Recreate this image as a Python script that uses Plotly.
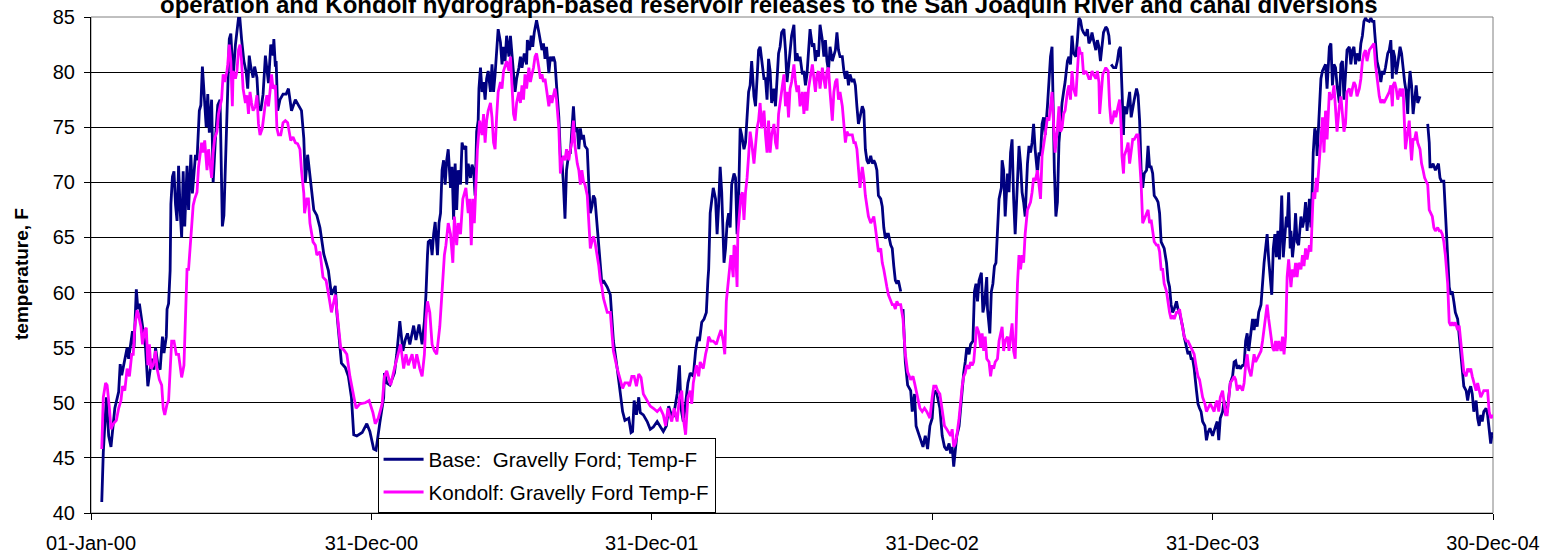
import plotly.graph_objects as go
import pandas as pd

FONT = "Arial, 'Liberation Sans', sans-serif"
title_text = "operation and Kondolf hydrograph-based reservoir releases to the San Joaquin River and canal diversions"
y_title = "temperature, F"
series_names = ["Base:  Gravelly Ford; Temp-F", "Kondolf: Gravelly Ford Temp-F"]
series_colors = ["#000080", "#FF00FF"]

start = pd.Timestamp("2000-01-01")
tick_days = [0, 365, 730, 1095, 1460, 1825]
tick_labels = ["01-Jan-00", "31-Dec-00", "31-Dec-01", "31-Dec-02", "31-Dec-03", "30-Dec-04"]

# (day since 01-Jan-00, temperature F); None = gap in record
base_points = [
    (14,41.0),(16,45.5),(20,50.5),(23,47),(26,46),(28,47.5),(31,49.5),(36,51),(38,53.5),(40,52.5),
    (43,53.5),(47,55),(49,54),(52,55.5),(54,56.5),(56,55),(59,60.3),(61,58.5),(63,59),(66,57.5),
    (69,56),(71,55),(74,51.5),(77,53),(79,54),(82,53),(84,55),(87,53.5),(90,53),(93,56),(95,54.5),
    (98,56),(99,58.5),(101,59),(103,62),(104,68),(106,70.5),(108,71),(110,68),(112,66.5),(114,71.5),
    (116,67.5),(118,65),(120,71),(122,66),(125,71.5),(127,67.5),(130,72.5),(132,69),(136,72.5),
    (138,72),(141,76.5),(143,77),(145,80.5),(147,78),(150,75),(152,78),(154,74.5),(157,77.5),
    (159,70),(162,74),(165,77),(168,77.5),(170,70),(171,66),(173,67),(176,74),(178,78),(180,83),
    (182,83.5),(185,79.5),(188,82.5),(191,84.5),(193,85.5),(196,83),(199,81),(202,80),(204,78.5),
    (206,81.5),(208,80.5),(211,79.5),(213,80.5),(216,79.5),(218,77),(221,76.5),(224,78),(227,81.5),
    (229,80),(231,79),(234,82.5),(237,81.5),(238,83),(240,80.5),(241,81),(243,76.5),(246,77.5),
    (250,78),(254,78),(257,78.5),(261,76.5),(266,77.5),(270,77),(274,76.5),(277,74),(279,70),
    (282,72.5),(285,70.5),(290,67.5),(294,67),
    (298,65.9),(303,63.5),(309,62),(313,59.8),(318,60.6),(320,58.2),(324,55),(326,53.6),(331,53.2),
    (335,52.4),(339,50.5),(342,47.1),(346,47),(353,47.3),(359,48.1),(363,47.4),(368,45.8),(371,45.7),
    (376,48.2),(381,50.5),(382,52.7),(385,51.8),(389,51.6),(395,52.7),(398,54.4),(402,57.4),
    (406,54.7),(409,55.7),(412,56.3),(415,55.3),(420,57),(423,55.7),(427,57.1),(431,55.3),(434,57.4),
    (436,59.8),(438,63.4),(439,64.6),(442,64.8),(444,63.4),(446,65.3),(448,66.4),(451,63.4),
    (453,66.3),(455,67.2),(457,71.1),(459,72),(461,69.8),(463,72),(465,73),(468,69.5),(470,71.4),
    (472,66.6),(474,71.7),(476,67.5),(478,71.1),(481,69.8),(483,73.6),(485,73),(488,73.3),(489,69.8),
    (491,71.7),(494,70.4),(496,71.6),(498,71.1),(500,68.8),(502,74.6),(504,75.6),(505,78.5),
    (507,80.4),(509,78.2),(511,79.1),(513,77.5),(515,79.4),(517,80.1),(520,78.2),(522,80.7),
    (524,78.2),(526,79.8),(528,82),(530,83.9),(533,82.7),(535,80.7),(537,82.3),(539,81),(541,83.3),
    (544,81.4),(546,83.3),(548,81.7),(550,80.1),(552,78.2),(554,79.4),(557,80.4),(559,81.4),
    (561,80.4),(564,81.7),(567,80.7),(568,82.9),(571,82),(573,83.3),(575,82.3),(577,83.6),(580,84.7),
    (583,83.6),(585,82.9),(587,82),(589,82.6),(591,81.2),(593,82.3),(596,79.9),(598,81.4),(600,81),
    (602,81.4),(604,80.9),(606,78.8),(609,75.9),(611,72.4),(613,72),(615,69.8),(617,66.7),(619,71.1),
    (622,72.7),(624,72.7),(626,74.9),(628,76.9),(630,74.6),(633,74.9),(635,73),(637,74.9),(639,73.9),
    (641,74.3),(643,73.3),(646,73),(648,69.8),(650,67.2),(652,67.8),(654,68.8),(656,68.5),(659,65.9),
    (661,64),(663,62.7),(665,60.8),(667,61.1),(672,60.5),
    (676,59.8),(680,55.6),(685,53.1),(689,51.1),(692,49.2),(695,48.4),(700,48.6),(703,47.3),
    (705,47.4),(707,50.2),(710,48.9),(713,50.5),(715,49.1),(719,48.9),(724,48.3),(728,47.6),
    (732,47.8),(737,48.3),(741,47.9),(745,47.4),(749,47.9),(752,49.7),(754,49.2),(758,48.7),
    (763,50.8),(766,53.4),(768,49.5),(771,48.3),(774,49.9),(777,51.8),(780,52.7),(784,52.4),
    (787,54.7),(790,56),(792,55.6),(795,57.3),(798,57.6),(801,58.2),(803,61.1),(804,62.1),(806,67.2),
    (808,68.5),(810,69.5),(813,68.5),(815,65.3),(817,67.9),(819,71.4),(821,69.1),(824,62.7),(826,64),
    (828,66.3),(830,67.2),(832,65.9),(834,69.8),(837,70.8),(839,70.4),(841,65.3),(843,68.5),
    (845,74.9),(847,74.3),(850,73),(852,73.6),(854,75.9),(856,78.2),(858,78.8),(860,81),(863,77.8),
    (865,76.9),(867,79.4),(869,82),(871,82.3),(873,81),(876,79.4),(878,79.4),(880,77.5),(882,81.2),
    (884,80.1),(886,77.2),(889,78.5),(891,76.9),(893,79.1),(895,81.7),(897,82.3),(899,83.6),
    (902,83.9),(904,82),(906,79.1),(908,80.7),(910,81.7),(912,83.3),(915,84.3),(917,81),(919,81.7),
    (921,81),(923,81.4),(926,79.8),(928,80.1),(930,78.8),(932,79.8),(934,82.3),(936,83.9),(939,82.3),
    (941,82.6),(943,81),(945,82),(947,81.4),(949,84.3),(952,82.9),(954,81.4),(956,82.9),(958,81),
    (960,80.1),(962,82.3),(965,81),(967,81.4),(969,82),(971,83.6),(973,82),(975,81.4),(978,81.4),
    (980,80.1),(982,79.4),(984,80.1),(986,78.8),(988,79.8),(991,79.1),(993,79.4),(995,78.8),
    (997,76.9),(999,75.3),(1001,75.9),(1004,76.9),(1006,76.5),(1008,73),(1010,72),(1012,71.7),
    (1015,72.4),(1017,71.7),(1019,72),(1021,71.7),(1023,71.1),(1025,68.8),(1028,68.5),(1030,67.8),
    (1032,65.9),(1034,64.9),(1036,65.3),(1038,65.3),(1041,64.3),(1043,64),(1045,62.4),(1047,61.1),
    (1049,60.8),(1051,61.1),(1054,60.1),(1055,None),
    (1057,58.5),(1060,53.7),(1063,51.6),(1067,51.1),(1069,49.2),(1072,50.8),(1074,47.9),(1077,47.3),
    (1081,46.6),(1083,46),(1086,47),(1089,45.8),(1092,47.9),(1095,48.6),(1097,50.8),(1100,51.1),
    (1102,50.5),(1105,49.5),(1108,47),(1111,46),(1114,45.7),(1117,46.3),(1119,45.4),(1121,46),
    (1123,44.2),(1125,45.7),(1127,47),(1130,47.9),(1132,49.5),(1134,51.8),(1136,52.7),(1138,53.7),
    (1140,55),(1143,54.4),(1145,55.3),(1148,55.6),(1150,60.1),(1152,60.8),(1154,59.2),(1156,61.1),
    (1159,61.8),(1161,58.2),(1163,58.9),(1166,61.4),(1167,58.5),(1170,56.3),(1172,60.1),(1174,60.8),
    (1176,62.4),(1178,62.7),(1180,65.3),(1182,68.5),(1185,69.5),(1186,72),(1188,71.1),(1190,66.9),
    (1193,70.8),(1195,69.1),(1197,72.7),(1199,73.9),(1201,68.5),(1203,65.3),(1206,70.1),(1208,73.3),
    (1210,71.7),(1212,69.1),(1214,68.2),(1216,66.9),(1219,71.7),(1221,73.3),(1223,72.7),(1225,73.6),
    (1227,75.3),(1229,73),(1232,70.8),(1234,72.7),(1236,72.4),(1238,75.3),(1240,75.9),(1242,74.3),
    (1245,76.9),(1247,79.1),(1249,81.4),(1251,82.3),(1252,76.9),(1254,71.1),(1256,66.9),(1258,68.2),
    (1260,73.6),(1262,75.6),(1264,77.2),(1266,78.2),(1268,79.1),(1271,81),(1273,81.4),(1275,80.7),
    (1277,83.3),(1279,81.7),(1282,81.4),(1284,82.9),(1286,84.9),(1288,84.7),(1290,83.9),(1292,83.6),
    (1295,83.3),(1297,83.9),(1299,82.6),(1301,82.9),(1303,83.6),(1305,82.9),(1308,82),(1310,82.9),
    (1312,82.3),(1314,81),(1316,82.6),(1318,83.6),(1321,84.1),(1323,83.9),(1325,83.3),(1326,82.5),
    (1327,None),
    (1328,80.7),(1331,80.4),(1334,80.4),(1336,81),(1338,82),(1340,82.3),(1342,78.5),(1344,74.3),
    (1345,76.9),(1348,76.2),(1350,77.2),(1352,78.2),(1354,75.9),(1356,76.9),(1358,77.5),(1361,78.5),
    (1363,77.9),(1365,75.6),(1367,71.1),(1369,69.5),(1371,70.8),(1374,71.1),(1376,73.3),(1378,71.4),
    (1380,71.4),(1382,70.8),(1384,68.8),(1387,68.5),(1389,68.2),(1391,67.2),(1393,64.6),(1395,64.3),
    (1397,64),(1400,62.7),(1402,61.1),(1404,60.5),(1406,58.9),(1408,58.2),(1410,58.5),(1413,59.2),
    (1415,58.5),(1417,58.2),(1419,57.6),(1421,56.9),(1423,56),(1426,55),(1428,54.4),(1430,54.7),
    (1432,54),(1434,54),(1436,53.1),(1439,51.1),(1441,49.9),(1443,49.5),(1445,49.2),(1447,48.3),
    (1450,47.9),(1452,46.6),(1454,47.3),(1456,47.6),
    (1457,47.6),(1460,47),(1462,47.6),(1464,47.9),(1466,48.3),(1468,46.6),(1470,48.6),(1473,49.2),
    (1475,50.2),(1477,48.9),(1479,49.2),(1481,50.5),(1483,51.8),(1486,52.4),(1488,53.7),(1490,53.8),
    (1492,53.1),(1494,53.4),(1496,53.1),(1499,53.4),(1501,53.4),(1503,55.6),(1505,56.3),(1507,54.7),
    (1510,56.6),(1512,57.6),(1514,56.6),(1516,57.6),(1518,56.9),(1520,58.2),(1523,58.9),(1525,61.1),
    (1527,62.7),(1529,64),(1531,65.3),(1533,63),(1536,60.8),(1537,59.8),(1539,64),(1541,65.3),
    (1543,63.2),(1545,65.6),(1547,63),(1549,67.9),(1550,68.8),(1552,63.2),(1554,64.9),(1556,66.9),
    (1557,65.9),(1559,69.1),(1561,64),(1562,65.6),(1564,63.2),(1566,64.6),(1568,67.2),(1570,64.6),
    (1572,64.3),(1575,66.9),(1577,65.9),(1579,66.6),(1581,68.2),(1583,65.6),(1586,68.5),(1588,65.9),
    (1590,70.1),(1591,72.7),(1593,74.9),(1595,74.3),(1596,72.4),(1599,76.5),(1601,79.4),(1603,80.1),
    (1605,80.4),(1607,80.7),(1609,78.5),(1612,82.3),(1614,82.6),(1616,78.8),(1618,80.7),(1620,80.4),
    (1622,78.8),(1625,77.2),(1627,80.7),(1629,81),(1631,77.5),(1633,79.8),(1635,82),(1638,82.3),
    (1640,80.7),(1642,82),(1644,82.3),(1646,80.7),(1648,81.7),(1651,81),(1653,82.6),(1655,83.3),
    (1657,84.6),(1659,84.9),(1661,84.7),(1664,84.6),(1666,84.9),(1668,84.6),(1670,84.6),(1671,83.6),
    (1674,81),(1677,80.1),(1679,79.1),(1681,80.1),(1683,79.8),(1685,80.4),(1688,81.7),(1690,82),
    (1692,82.9),(1694,79.4),(1695,82),(1697,81.4),(1699,79.8),(1701,80.7),(1704,82.3),(1706,81.7),
    (1708,80.1),(1710,79.1),(1712,78.2),(1714,76.2),(1715,78.2),(1717,80.1),(1719,78.8),(1721,76.2),
    (1723,77.5),(1725,78.8),(1727,77.2),(1730,77.8),(1735,None),
    (1740,75.3),(1742,73.6),(1743,71.4),(1745,71.4),(1747,71.7),(1750,71.1),(1752,71.4),(1754,71.7),
    (1756,70.4),(1758,70.1),(1761,70.1),(1763,67.2),(1764,65.3),(1766,62.1),(1768,60.5),(1770,59.8),
    (1772,60.1),(1774,59.2),(1776,58.2),(1779,57.6),(1781,56),(1783,54.7),(1785,53.1),(1787,51.5),
    (1790,51.1),(1792,50.2),(1794,51.1),(1796,51.5),(1798,50.8),(1800,49.2),(1803,50.2),(1805,48.6),
    (1807,47.9),(1809,48.9),(1811,48.3),(1813,49.2),(1816,49.5),(1818,48.9),(1820,47.6),(1822,46.3),
    (1824,47.3),(1825,47),
]

kondolf_points = [
    (14,45.8),(16,50.5),(19,51.8),(21,51.6),(24,49.5),(26,47.6),(29,48.1),(33,48.4),(36,49.5),
    (39,50.2),(41,51.5),(44,51.1),(47,53.1),(50,52.4),(53,54.4),(55,54.4),(57,56.9),(60,58.4),
    (62,57.9),(65,56.9),(67,55.3),(70,56.6),(72,56.8),(74,53.4),(76,55.3),(78,53.1),(81,53.4),
    (84,54.7),(86,53.1),(89,52.1),(92,51.6),(94,49.5),(96,48.9),(99,49.9),(101,50.2),(103,53.7),
    (105,55.6),(108,55.6),(111,54.4),(114,54.4),(116,53.4),(118,52.3),(121,53.4),(123,57.6),
    (125,62.1),(127,62.1),(129,64),(131,66.6),(133,67.9),(135,68.5),(138,69.1),(140,71.4),(142,72.7),
    (144,73.6),(146,72.7),(148,73.8),(151,71.1),(153,73),(155,71.7),(157,70.4),(159,72.7),(161,74),
    (164,74.6),(166,76.2),(168,76.9),(170,77.5),(172,79.8),(174,79.1),(177,80.1),(178,80.7),
    (180,82.5),(182,81),(184,76.9),(185,80.1),(188,79.4),(190,80.1),(192,82),(194,82.5),(196,81),
    (198,78.5),(201,77.2),(203,77.9),(205,76.2),(207,78.2),(209,77.2),(211,76.5),(214,76.9),
    (216,77.9),(218,75.3),(220,74.3),(223,74.9),(224,75.6),(227,77.2),(229,77.9),(231,76.9),
    (233,78.2),(235,79.8),(237,78.5),(240,78.8),(242,74.9),(244,74.3),(247,74.3),(250,75.4),
    (253,75.6),(256,75.4),(258,74.6),(260,73.8),(263,74.1),(266,73.6),(269,73.5),(272,73),(274,71.1),
    (277,69),(278,67.2),(281,68.5),(283,68.5),(285,66.3),(289,64.6),(292,64.3),(294,63.4),
    (298,63.7),(302,61.4),(306,61.1),(310,59.5),(313,58.2),(318,59.8),(322,56.9),(325,55),(329,54.8),
    (333,54.4),(337,52.4),(342,50.5),(345,49.5),(350,49.9),(357,50),(362,50.2),(367,49.1),(370,48.1),
    (374,48.6),(379,49.9),(382,52.4),(385,52.9),(390,51.6),(396,53.4),(400,54.4),(403,55.3),
    (407,53.1),(410,54.4),(413,53.4),(418,54.4),(421,53.1),(424,54.4),(428,53.1),(431,52.4),
    (434,54.4),(436,57.6),(438,59.2),(441,58.2),(444,55.3),(447,54.7),(450,54.4),(454,56.9),
    (457,60.1),(460,63.4),(462,64.3),(465,66.3),(468,65.3),(471,62.7),(473,66.9),(476,64.3),
    (478,66.3),(481,65.3),(484,68.5),(486,69.1),(488,69.5),(491,67.2),(493,68.5),(495,64.3),
    (497,68.5),(499,66.3),(501,70.4),(503,73),(506,75.6),(509,74.3),(511,76.2),(513,73.6),(515,75.6),
    (517,76.5),(520,77.2),(522,75.9),(524,73.6),(526,73),(528,75.9),(530,78.2),(533,79.1),(535,78.5),
    (537,80.1),(539,80.7),(541,81),(544,80.1),(546,81.4),(548,78.8),(550,76.2),(552,75.6),(554,77.2),
    (557,78.2),(559,77.2),(561,78.8),(563,77.5),(565,79.8),(567,78.5),(570,80.4),(572,79.1),
    (574,79.8),(576,80.4),(578,81.4),(580,81.7),(583,80.4),(585,79.4),(587,79.8),(589,79.1),
    (591,79.4),(593,78.5),(596,76.9),(598,77.9),(600,77.2),(602,77.9),(604,78.5),(606,77.5),
    (609,74.9),(611,70.8),(613,72),(615,72.4),(617,72),(619,73),(622,72),(624,73),(626,73.6),
    (628,75.6),(630,73.3),(633,71.7),(635,71.1),(637,69.8),(639,71.1),(641,70.1),(643,69.8),
    (646,68.8),(648,65.9),(650,64),(652,64.6),(654,65.1),(656,64.6),(659,63.4),(661,62.4),(663,61.1),
    (665,60.5),(667,59.5),(672,58.2),
    (676,58.2),(680,54.7),(685,53.1),(689,52.1),(692,51.3),(695,51.8),(699,51.8),(701,51.5),
    (704,52.4),(707,52.4),(710,51.5),(713,52.6),(716,52.3),(719,50.8),(724,50.2),(728,49.7),
    (732,49.5),(737,49.2),(741,49.5),(745,48.9),(748,47.9),(751,49.5),(753,48.9),(756,48.3),
    (759,49.5),(763,48.3),(766,50.5),(769,51.1),(771,48.6),(774,47.1),(777,50.5),(780,51.1),
    (782,49.9),(784,51.8),(788,53.4),(791,52.4),(793,53.7),(797,53.1),(800,54.4),(802,55),(804,56),
    (807,55.6),(810,55.6),(814,55.3),(817,56),(820,56.6),(823,55.6),(825,54.4),(827,59.2),(829,60.8),
    (831,61.8),(833,63.4),(836,61.4),(837,64.3),(839,64),(841,60.5),(842,65.3),(844,67.2),(846,68.8),
    (848,69.1),(850,66.6),(852,69.1),(854,70.4),(856,72.4),(858,74.6),(860,73.6),(863,71.7),
    (865,73.3),(867,74.9),(869,75.6),(871,77.2),(873,74.9),(876,76.5),(878,74.3),(880,72.7),
    (882,75.6),(884,72.7),(886,74.3),(889,75.3),(891,73.6),(893,73),(895,76.2),(897,77.2),(899,78.2),
    (902,79.8),(904,76.9),(906,78.2),(908,75.9),(910,78.5),(912,79.1),(915,80.7),(917,79.1),
    (919,78.2),(921,78.8),(923,76.9),(926,78.2),(928,76.2),(930,78.2),(932,76.5),(934,78.5),
    (936,79.4),(939,80.7),(941,79.4),(943,78.2),(945,79.8),(947,80.1),(949,78.5),(952,80.4),
    (954,79.4),(956,78.5),(958,80.1),(960,80.4),(962,78.2),(965,75.6),(967,78.2),(969,79.1),
    (971,79.4),(973,77.5),(975,78.2),(978,76.9),(980,75.3),(982,73.6),(984,74.6),(986,74.3),
    (988,74.3),(991,74.3),(993,73.6),(995,73.6),(997,73),(999,71.1),(1001,69.5),(1004,71.4),
    (1006,70.4),(1008,68.8),(1010,67.9),(1012,66.9),(1015,66.3),(1017,66.6),(1019,66.9),(1021,65.9),
    (1023,65),(1025,63.7),(1028,64),(1030,62.7),(1032,62.1),(1034,61.1),(1036,60.5),(1038,59.8),
    (1041,59.2),(1043,58.9),(1045,58.9),(1047,58.5),(1049,59.2),(1051,58.9),(1054,58.9),
    (1057,57.6),(1060,54.4),(1063,52.8),(1067,52.1),(1070,52.4),(1072,51.8),(1075,50.8),(1079,49.5),
    (1082,49.2),(1085,49.5),(1088,49.2),(1092,48.6),(1095,50.5),(1097,51.5),(1100,51.5),(1102,51.1),
    (1105,50.8),(1108,49.2),(1111,47.9),(1114,47.6),(1117,47.3),(1119,47),(1121,47.6),(1123,46),
    (1125,46.3),(1127,47),(1130,48.6),(1132,50.2),(1134,51.5),(1136,52.4),(1138,52.7),(1140,53.4),
    (1143,53.1),(1145,53.7),(1147,53.4),(1149,53.7),(1151,55.6),(1153,56.9),(1156,56.3),(1158,55),
    (1160,56.3),(1162,54.7),(1164,56),(1166,54),(1169,53.7),(1171,52.4),(1173,53.4),(1175,53.1),
    (1177,53.7),(1180,54),(1182,55.6),(1184,56.3),(1186,56.9),(1188,54.7),(1190,55.6),(1193,56),
    (1195,54.7),(1197,56),(1199,57.2),(1201,54.7),(1203,54),(1206,60.8),(1208,63.4),(1210,62.1),
    (1212,63.4),(1214,62.7),(1216,65.3),(1219,67.5),(1221,67.9),(1223,68.2),(1225,69.1),(1227,70.4),
    (1229,70.1),(1232,71.1),(1234,69.8),(1236,68.5),(1238,72.4),(1240,73.6),(1242,74.3),(1245,75.9),
    (1247,75.6),(1249,76.9),(1251,78.2),(1253,75.3),(1255,72.7),(1258,74.9),(1260,76.9),(1262,74.6),
    (1264,74.9),(1266,76.2),(1268,76.5),(1271,78.2),(1273,78.8),(1275,77.5),(1277,80.1),(1279,78.5),
    (1282,77.8),(1284,80.1),(1286,82.3),(1288,81.7),(1290,81.7),(1292,79.8),(1295,80.1),(1297,79.8),
    (1299,79.4),(1301,79.4),(1303,80.1),(1305,79.8),(1308,79.4),(1310,80.1),(1312,79.1),(1313,76.2),
    (1315,78.2),(1317,79.8),(1319,80.1),(1321,80.4),(1324,80.1),(1326,76.9),(1328,75.3),(1330,75.6),
    (1332,76.5),(1334,75.9),(1337,76.9),(1339,77.5),(1341,74.9),(1342,72.4),(1344,70.8),(1345,72.4),
    (1348,73),(1350,73.6),(1352,71.7),(1354,73),(1356,73.9),(1358,73.9),(1361,74.3),(1363,74.3),
    (1365,72.4),(1367,69.8),(1369,66.3),(1371,66.6),(1374,67.2),(1376,67.5),(1378,66.3),(1380,66.6),
    (1382,65.6),(1384,64.6),(1387,64.3),(1389,64.3),(1391,63.7),(1393,62.1),(1395,62.1),(1397,60.8),
    (1400,60.1),(1402,58.9),(1404,58.2),(1406,57.6),(1408,57.9),(1410,57.6),(1413,58.2),(1415,58.2),
    (1417,58.5),(1419,57.6),(1421,56.6),(1423,56),(1426,55.6),(1428,55.6),(1430,55.3),(1432,55),
    (1434,54.7),(1436,54.4),(1439,53.1),(1441,52.4),(1443,52.1),(1445,51.1),(1447,50.5),(1450,49.9),
    (1452,49.2),(1454,49.5),(1456,49.9),
    (1457,49.9),(1460,49.5),(1462,49.2),(1464,49.9),(1466,50.2),(1468,49.2),(1470,50.5),(1473,51.1),
    (1475,50.2),(1477,48.9),(1479,48.9),(1481,50.8),(1483,51.8),(1486,52.1),(1488,52.4),(1490,52.1),
    (1492,51.1),(1494,51.5),(1496,51.5),(1499,51.1),(1501,51.8),(1503,53.4),(1505,54.4),(1507,53.1),
    (1510,52.4),(1512,53.4),(1514,54.4),(1516,53.7),(1518,54),(1520,54.4),(1523,54.7),(1525,55.6),
    (1527,56.6),(1529,57.6),(1531,58.9),(1533,57.6),(1536,56),(1538,55),(1540,54.7),(1542,55.6),
    (1544,54.7),(1546,55.6),(1549,54.7),(1551,56),(1553,54.4),(1555,56),(1557,61.4),(1559,63),
    (1562,60.5),(1564,62.1),(1566,61.4),(1568,62.7),(1570,61.4),(1572,62.7),(1575,62.1),(1577,63.4),
    (1579,62.4),(1581,64),(1583,63),(1586,64.3),(1588,63.7),(1590,67.2),(1591,69.1),(1593,68.5),
    (1595,70.4),(1596,69.1),(1599,72),(1601,74.3),(1603,75.9),(1605,72.7),(1607,76.5),(1609,73.9),
    (1612,78.2),(1614,77.5),(1616,77.8),(1618,78.8),(1620,76.2),(1622,74.6),(1625,76.9),(1627,77.8),
    (1629,76.2),(1631,74.6),(1633,75.3),(1635,78.2),(1638,78.5),(1640,77.8),(1642,78.5),(1644,79.1),
    (1646,78.8),(1648,77.8),(1651,78.5),(1653,79.4),(1655,81),(1657,81.7),(1659,82),(1661,81),
    (1664,82),(1666,82.2),(1668,82.3),(1670,82.6),(1672,80.7),(1674,79.4),(1677,77.8),(1679,77.2),
    (1681,77.5),(1683,77.2),(1685,77.5),(1688,77.8),(1690,78.2),(1692,78.8),(1694,76.9),(1695,78.8),
    (1697,79.1),(1699,78.5),(1701,77.5),(1704,78.5),(1706,77.8),(1708,78.5),(1710,74.9),(1711,73),
    (1714,74.6),(1716,75.6),(1718,73),(1719,72),(1721,73.9),(1723,73.9),(1725,74.6),(1727,73.6),
    (1730,73),(1732,71.7),(1734,71.1),(1736,70.4),(1738,70.1),(1740,69.8),(1742,67.5),(1744,67.2),
    (1746,66.9),(1748,65.9),(1750,65.6),(1753,65.9),(1755,65.6),(1757,65.6),(1759,65.3),(1761,64.6),
    (1763,63.4),(1766,60.8),(1768,57.3),(1770,57),(1772,57.3),(1774,57),(1776,57.3),(1779,56.6),
    (1781,57),(1783,55.6),(1785,54),(1787,52.8),(1790,52.4),(1792,53.1),(1794,52.8),(1796,53.1),
    (1798,52.4),(1800,51.8),(1803,51.1),(1805,51.8),(1807,51.1),(1809,50.5),(1811,50.8),(1813,51.1),
    (1816,51.1),(1818,51.1),(1820,49.2),(1822,48.6),(1824,48.9),(1825,48.6),
]


def to_xy(points):
    xs = [start + pd.Timedelta(days=d) for d, _ in points]
    ys = [t for _, t in points]
    return xs, ys


fig = go.Figure()
for pts, name, color, grp in [
    (base_points, series_names[0], series_colors[0], "g1"),
    (kondolf_points, series_names[1], series_colors[1], "g2"),
]:
    xs, ys = to_xy(pts)
    fig.add_trace(go.Scatter(
        x=xs, y=ys, mode="lines", name=name, legendgroup=grp,
        line=dict(color=color, width=2.8), connectgaps=False,
    ))

tick_dates = [start + pd.Timedelta(days=d) for d in tick_days]

fig.update_layout(
    width=1555, height=557,
    margin=dict(l=91, r=62, t=17, b=44, autoexpand=False),
    paper_bgcolor="white", plot_bgcolor="white",
    font=dict(family=FONT, color="black", size=20),
    showlegend=True,
    legend=dict(
        x=0.2044, y=0.1505, xanchor="left", yanchor="top",
        bgcolor="white", bordercolor="black", borderwidth=1,
        font=dict(family=FONT, size=20.6, color="black"),
        tracegroupgap=3, itemwidth=40,
    ),
    xaxis=dict(
        type="date",
        range=[start, start + pd.Timedelta(days=1825)],
        tickmode="array", tickvals=tick_dates, ticktext=tick_labels,
        ticks="outside", ticklen=6, tickcolor="black", ticklabelstandoff=6,
        showline=True, linecolor="black", linewidth=1,
        showgrid=False, zeroline=False,
        tickfont=dict(family=FONT, size=20, color="black"),
    ),
    yaxis=dict(
        range=[40, 85], tick0=40, dtick=5,
        ticks="outside", ticklen=6, tickcolor="black", ticklabelstandoff=5,
        showline=True, linecolor="black", linewidth=1,
        showgrid=True, gridcolor="black", gridwidth=1, zeroline=False,
        tickfont=dict(family=FONT, size=20, color="black"),
    ),
    shapes=[dict(type="rect", xref="paper", yref="paper", x0=0, x1=1, y0=0, y1=1,
                 line=dict(color="#808080", width=1), layer="below")],
    annotations=[
        dict(
            text="<b>" + title_text + "</b>", xref="paper", yref="paper",
            x=0.4834, y=1, xanchor="center", yanchor="bottom", yshift=-3,
            showarrow=False, font=dict(family=FONT, size=24, color="black"),
        ),
        dict(
            text="<b>" + y_title + "</b>", xref="paper", yref="paper",
            x=-0.0492, y=0.4819, xanchor="center", yanchor="middle", textangle=-90,
            showarrow=False, font=dict(family=FONT, size=19, color="black"),
        ),
    ],
)

fig.write_html(
    "out.html",
    config={"displayModeBar": False},
    post_script="document.body.style.margin='0';document.body.style.overflow='hidden';",
)
